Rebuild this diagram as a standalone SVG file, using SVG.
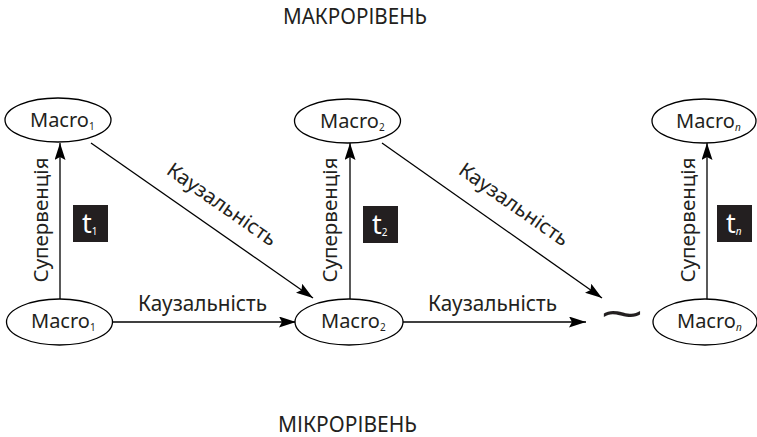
<svg xmlns="http://www.w3.org/2000/svg" width="757" height="437" viewBox="0 0 757 437">
<defs>
<marker id="arr" markerUnits="userSpaceOnUse" markerWidth="18" markerHeight="11" refX="17" refY="5.5" orient="auto">
<path d="M0,0 L17,5.5 L0,11 L3,5.5 z" fill="#000"/>
</marker>
<style>
.lbl{font-family:"Noto Sans","Liberation Sans",Arial,sans-serif;fill:#231f20}
.ell{fill:#fff;stroke:#000;stroke-width:1.3}
.con{stroke:#000;stroke-width:1.3;fill:none;marker-end:url(#arr)}
.mac{font-family:"Noto Sans","Liberation Sans",Arial,sans-serif;font-size:20px;fill:#231f20}
.sub{font-size:10px}
.tbox{fill:#231f20}
.tt{font-family:"Noto Sans","Liberation Sans",Arial,sans-serif;font-size:27px;fill:#fff}
</style>
</defs>
<rect width="757" height="437" fill="#fff"/>
<text class="lbl" x="355" y="24" font-size="22" text-anchor="middle" textLength="144" lengthAdjust="spacingAndGlyphs">МАКРОРІВЕНЬ</text>
<text class="lbl" x="347.5" y="432" font-size="22" text-anchor="middle" textLength="139" lengthAdjust="spacingAndGlyphs">МІКРОРІВЕНЬ</text>
<g id="connectors">
<line class="con" x1="60" y1="300" x2="60" y2="143"/>
<line class="con" x1="350" y1="300" x2="350" y2="143"/>
<line class="con" x1="707" y1="300" x2="707" y2="143"/>
<line class="con" x1="91" y1="143" x2="313" y2="298"/>
<line class="con" x1="382" y1="143" x2="602" y2="298"/>
<line class="con" x1="113" y1="322" x2="296" y2="322"/>
<line class="con" x1="403" y1="322" x2="586" y2="322"/>
<text class="lbl" font-size="20" transform="translate(48,220) rotate(-90)" text-anchor="middle" textLength="125" lengthAdjust="spacingAndGlyphs">Супервенція</text>
<text class="lbl" font-size="20" transform="translate(337,220) rotate(-90)" text-anchor="middle" textLength="125" lengthAdjust="spacingAndGlyphs">Супервенція</text>
<text class="lbl" font-size="20" transform="translate(695,220) rotate(-90)" text-anchor="middle" textLength="125" lengthAdjust="spacingAndGlyphs">Супервенція</text>
<text class="lbl" font-size="20" transform="translate(218,210) rotate(35)" text-anchor="middle" textLength="129" lengthAdjust="spacingAndGlyphs">Каузальність</text>
<text class="lbl" font-size="20" transform="translate(510,210) rotate(35)" text-anchor="middle" textLength="129" lengthAdjust="spacingAndGlyphs">Каузальність</text>
<text class="lbl" font-size="21" x="202.5" y="311" text-anchor="middle" textLength="129" lengthAdjust="spacingAndGlyphs">Каузальність</text>
<text class="lbl" font-size="21" x="492.5" y="311" text-anchor="middle" textLength="129" lengthAdjust="spacingAndGlyphs">Каузальність</text>
</g>
<g id="tilde">
<text class="lbl" font-family="DejaVu Sans" x="600" y="330" font-size="44" textLength="44" lengthAdjust="spacingAndGlyphs">~</text>
</g>
<g id="macro1-top">
<ellipse class="ell" cx="58" cy="120" rx="53" ry="22"/>
<text class="mac" x="30" y="127">Macro<tspan class="sub" dy="3">1</tspan></text>
</g>
<g id="macro2-top">
<ellipse class="ell" cx="347.5" cy="121" rx="53" ry="22"/>
<text class="mac" x="320" y="128">Macro<tspan class="sub" dy="3">2</tspan></text>
</g>
<g id="macron-top">
<ellipse class="ell" cx="704" cy="121" rx="52" ry="22"/>
<text class="mac" x="676" y="128">Macro<tspan class="sub" dy="3" font-style="italic">n</tspan></text>
</g>
<g id="macro1-bottom">
<ellipse class="ell" cx="59.5" cy="322" rx="53" ry="23"/>
<text class="mac" x="31" y="328">Macro<tspan class="sub" dy="3">1</tspan></text>
</g>
<g id="macro2-bottom">
<ellipse class="ell" cx="349" cy="322" rx="54" ry="23"/>
<text class="mac" x="321" y="328">Macro<tspan class="sub" dy="3">2</tspan></text>
</g>
<g id="macron-bottom">
<ellipse class="ell" cx="705" cy="322" rx="52" ry="23"/>
<text class="mac" x="677" y="328">Macro<tspan class="sub" dy="3" font-style="italic">n</tspan></text>
</g>
<g id="t1">
<rect class="tbox" x="73" y="205" width="35" height="37"/>
<text class="tt" x="82" y="233">t<tspan class="sub" font-size="11" dy="2">1</tspan></text>
</g>
<g id="t2">
<rect class="tbox" x="363" y="206" width="35" height="37"/>
<text class="tt" x="372" y="234">t<tspan class="sub" font-size="11" dy="2">2</tspan></text>
</g>
<g id="tn">
<rect class="tbox" x="717" y="205" width="35" height="37"/>
<text class="tt" x="726" y="233">t<tspan class="sub" font-size="11" dy="2" font-style="italic">n</tspan></text>
</g>
</svg>
